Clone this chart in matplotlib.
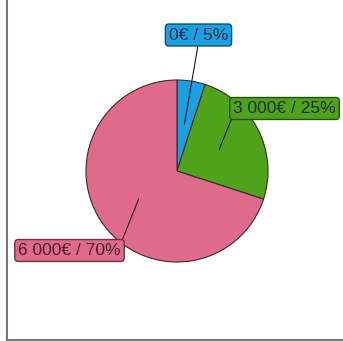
import numpy as np
import matplotlib.pyplot as plt
from matplotlib.lines import Line2D

# Budget split per category
amounts = ["0€", "3 000€", "6 000€"]
shares = [5, 25, 70]
colors = ["#1ba0e2", "#4ea31b", "#e06a8a"]

W, H = 343, 341
fig = plt.figure(figsize=(W / 100, H / 100), dpi=100)
ax = fig.add_axes([0, 0, 1, 1])
ax.set_xlim(0, W)
ax.set_ylim(0, H)
ax.set_aspect("equal")
ax.axis("off")

cx, cy, R = 177, H - 171, 91
wedges, _ = ax.pie(shares, colors=colors, startangle=90, counterclock=False,
                   center=(cx, cy), radius=R,
                   wedgeprops=dict(edgecolor="#3a2a2a", linewidth=0.8))
ax.set_xlim(0, W)
ax.set_ylim(0, H)

def darker(c, f=0.32):
    r, g, b = [int(c[i:i + 2], 16) / 255 for i in (1, 3, 5)]
    return (r * f, g * f, b * f)

# label box centres and where the leader leaves the box
label_pos = [(198.5, H - 35), (284.5, H - 108.5), (69.5, H - 250.5)]
rel = [(0.5, 0.0), (0.0, 0.08), (1.0, 0.95)]

for w, amt, s, col, pos, rp in zip(wedges, amounts, shares, colors, label_pos, rel):
    mid = np.deg2rad((w.theta1 + w.theta2) / 2)
    px = cx + 0.52 * R * np.cos(mid)
    py = cy + 0.52 * R * np.sin(mid)
    ax.annotate(f"{amt} / {s}%", xy=(px, py), xytext=pos,
                ha="center", va="center", fontsize=12.5,
                family="Liberation Sans", color=darker(col),
                bbox=dict(boxstyle="round,pad=0.2,rounding_size=0.2",
                          fc=col, ec=darker(col, 0.5), lw=1),
                arrowprops=dict(arrowstyle="-", color="#1a1a1a", lw=0.8,
                                relpos=rp, shrinkA=0, shrinkB=0))

# left and bottom border
fig.add_artist(Line2D([6.5 / W, 6.5 / W], [1 / H, 1], transform=fig.transFigure,
                      color="#777777", lw=1.5))
fig.add_artist(Line2D([6.5 / W, 1], [1 / H, 1 / H], transform=fig.transFigure,
                      color="#777777", lw=1.5))

fig.savefig("out.png", dpi=100)
